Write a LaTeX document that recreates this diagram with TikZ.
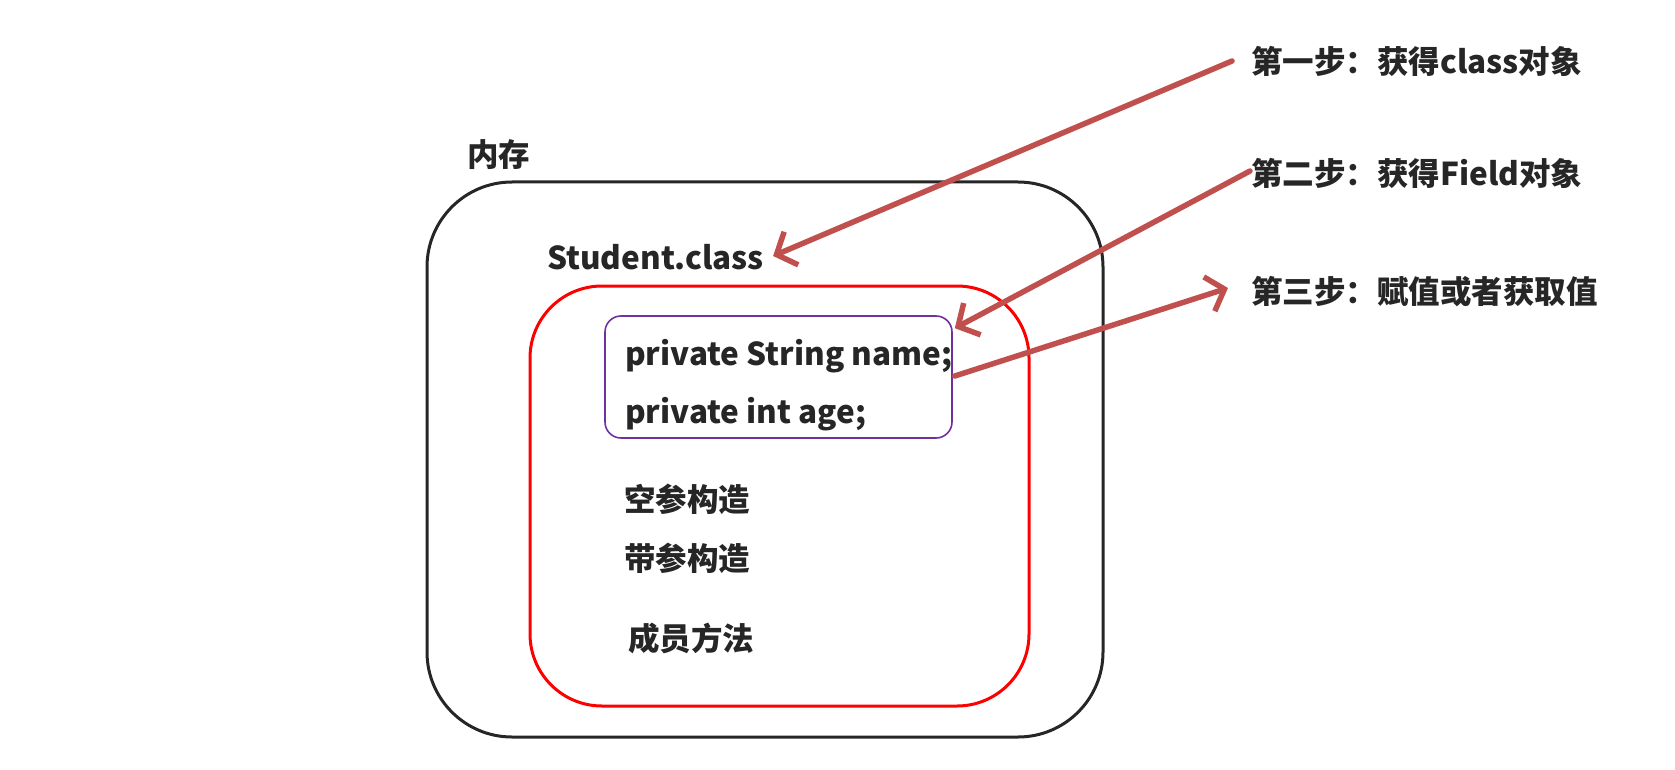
\documentclass[tikz,border=0pt]{standalone}
\usepackage{fontspec}
\usepackage{tikz}
\usetikzlibrary{arrows.meta}
\newfontfamily\cjk{Noto Sans CJK SC}
\definecolor{stepred}{HTML}{C0504D}
\definecolor{txtgray}{HTML}{262626}
\definecolor{fieldpurple}{HTML}{7030A0}

\begin{document}
\begin{tikzpicture}[x=1pt,y=-1pt,
	lbl/.style={font=\cjk\bfseries\fontsize{31.5}{38}\selectfont, text=txtgray, inner sep=0pt, anchor=west},
	steparrow/.style={draw=stepred, line width=5.5pt, line cap=round, -{Straight Barb[length=16pt,width=36pt]}}]
					\useasboundingbox (0,0) rectangle (1675,770);
					
					% boxes
					\node (mem) [draw=txtgray, line width=3pt, rounded corners=85pt, minimum width=676pt, minimum height=555pt] at (765,459.5) {};
					\node (obj) [draw=red, line width=3pt, rounded corners=72pt, minimum width=499pt, minimum height=420pt] at (779.5,496) {};
					\node (fields) [draw=fieldpurple, line width=1.6pt, rounded corners=16pt, minimum width=347pt, minimum height=122pt] at (778.5,377) {};
					
					\node (memlbl) [lbl] at (467,155) {内存};
					\node (cls) [lbl] at (547,257) {Student.class};
					\node (fname) [lbl] at (625,356) {private String name;};
					\node (fage) [lbl] at (625,414) {private int age;};
					\node (ctor1) [lbl] at (624,499) {空参构造};
					\node (ctor2) [lbl] at (624,558) {带参构造};
					\node (meth) [lbl] at (628,638) {成员方法};
					
					\node (s1) [lbl] at (1251,61) {第一步：获得class对象};
					\node (s2) [lbl] at (1251,173) {第二步：获得Field对象};
					\node (s3) [lbl] at (1251,292) {第三步：赋值或者获取值};
					
					%\draw[steparrow] (s1) -- (cls);
					\draw[steparrow] ([xshift=-19pt]s1.west) -- ([xshift=9pt,yshift=1pt]cls.east);
					\draw[steparrow] ([xshift=-1pt,yshift=2pt]s2.west) -- ([xshift=2pt,yshift=-13pt]fields.north east);
					\draw[steparrow] ([xshift=2pt,yshift=1pt]fields.east) -- ([xshift=-23pt,yshift=4pt]s3.west);
				\end{tikzpicture}
\end{document}
